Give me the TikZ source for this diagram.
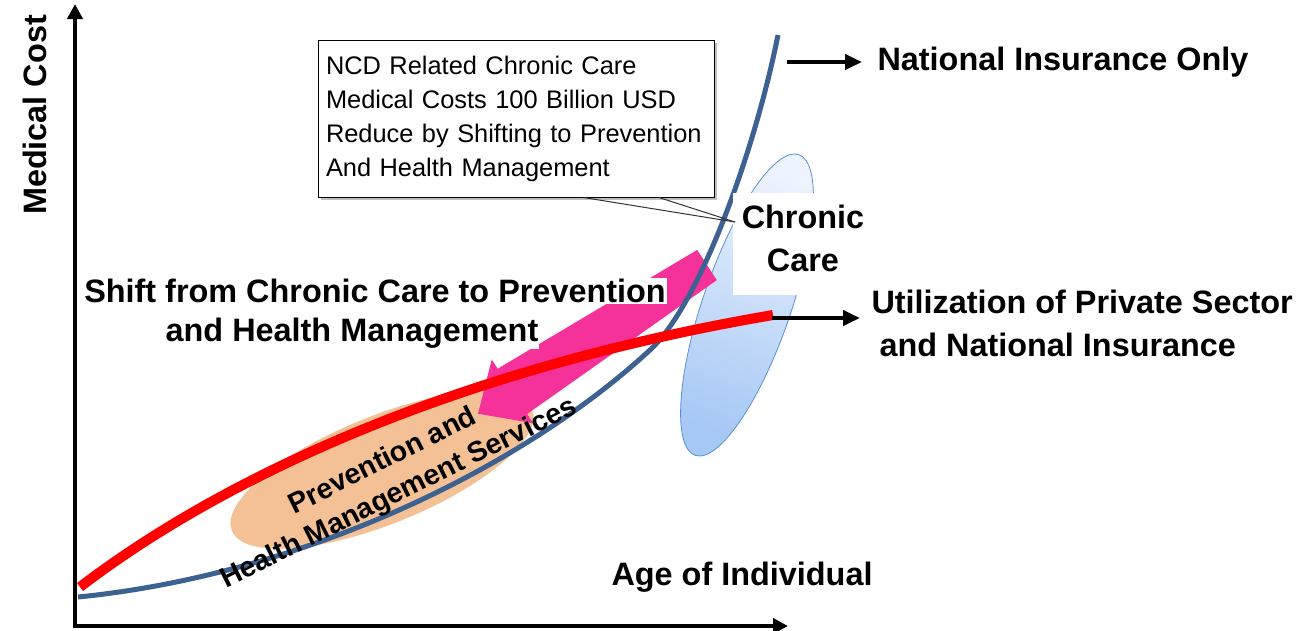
\documentclass[tikz,border=0pt]{standalone}
\usepackage{fontspec}
\setmainfont{Liberation Sans}
\usetikzlibrary{arrows.meta,calc,shapes.geometric}
\definecolor{curveblue}{HTML}{3D6190}
\definecolor{pinkarrow}{HTML}{F5319A}
\definecolor{orangefill}{HTML}{F4C196}
\definecolor{ellblueL}{HTML}{EEF4FF}
\definecolor{ellblueR}{HTML}{A6C8F4}
\definecolor{ellbluedraw}{HTML}{5A8FD8}
\tikzset{
  axis/.style={line width=4pt,-{Triangle[width=15pt,length=15pt]}},
  labarrow/.style={line width=4pt,-{Triangle[width=15pt,length=17pt]}},
  biglabel/.style={font=\fontsize{32.4}{43}\selectfont\bfseries},
  bluecurve/.style={curveblue,line width=5pt},
  redcurve/.style={red,line width=10pt},
}
\begin{document}
\begin{tikzpicture}[x=1pt,y=-1pt]
\useasboundingbox (0,0) rectangle (1304,630);
% axes
\coordinate (origin) at (75,626);
\coordinate (ytop) at (75,4);
\coordinate (xend) at (788,626);
\draw[axis] (origin) -- (ytop);
\draw[axis] ($(origin)+(-2,0)$) -- (xend);
% ellipses
\node[ellipse,fill=orangefill,minimum width=324pt,minimum height=108pt,rotate=22,inner sep=0pt] (prevell) at (382,470) {};
\node[ellipse,left color=ellblueL,right color=ellblueR,shading angle=-20,draw=ellbluedraw,line width=0.8pt,minimum width=318pt,minimum height=88pt,rotate=71,inner sep=0pt] (chronell) at (747,305) {};
% pink arrow
\begin{scope}[shift={(707,265)},rotate=213]
\fill[pinkarrow] (0,-18) -- (232,-27) -- (232,-38) -- (273,0) -- (232,38) -- (232,27) -- (0,18) -- cycle;
\end{scope}
% curves
\coordinate (b0) at (78,597);
\coordinate (b1) at (650,350);
\coordinate (b2) at (778,35);
\draw[bluecurve] (b0) .. controls (300,575) and (520,470) .. (b1) .. controls (700,304) and (755,150) .. (b2);
\coordinate (r0) at (80,587);
\coordinate (r1) at (773,315);
\draw[redcurve] (r0) .. controls (220,480) and (450,370) .. (r1);
% labels
\node[biglabel,rotate=90] (ylab) at (35,115) {Medical Cost};
\node[biglabel,anchor=west] (xlab) at (608,577) {Age of Individual};
\node[biglabel,fill=white,inner sep=1pt] (shift1) at (375,291) {Shift from Chronic Care to Prevention};
\node[biglabel,fill=white,inner sep=1pt] (shift2) at (352,333) {and Health Management};
\node[fill=white,minimum width=138pt,minimum height=102pt,inner sep=0pt] (chronbox) at (802,244) {};
\node[biglabel,align=center,inner sep=0pt] (chron) at (803,238) {Chronic\\Care};
% right labels
\coordinate (nio) at (787,62);
\node[biglabel,anchor=west] (niolab) at (874,62) {National Insurance Only};
\draw[labarrow] (nio) -- ($(niolab.west)+(-12,0)$);
\coordinate (ups) at (772,318);
\coordinate (upsend) at (860,318);
\node[biglabel,anchor=west,align=left] (upslab) at (868,323) {Utilization of Private Sector\\\hspace{8pt}and National Insurance};
\draw[labarrow] (ups) -- (upsend);
% callout
\fill[black!25] (321,43) rectangle (717,200);
\node[draw=black,line width=1pt,fill=white,minimum width=396pt,minimum height=157pt,text width=380pt,align=left,inner sep=6pt,font=\fontsize{25.4}{34}\selectfont] (callout) at (516,118.5) {NCD Related Chronic Care\\Medical Costs 100 Billion USD\\Reduce by Shifting to Prevention\\And Health Management};
\coordinate (cctip) at (735,222);
\draw[black!80,line width=1pt] ($(callout.south west)!0.67!(callout.south east)$) -- (cctip);
\draw[black!80,line width=1pt] ($(callout.south west)!0.86!(callout.south east)$) -- (cctip);
% prevention text
\node[font=\fontsize{28.5}{36}\selectfont\bfseries,align=center,rotate=26.6] (prevtxt) at (391,478) {Prevention and\\Health Management Services};
\end{tikzpicture}
\end{document}
